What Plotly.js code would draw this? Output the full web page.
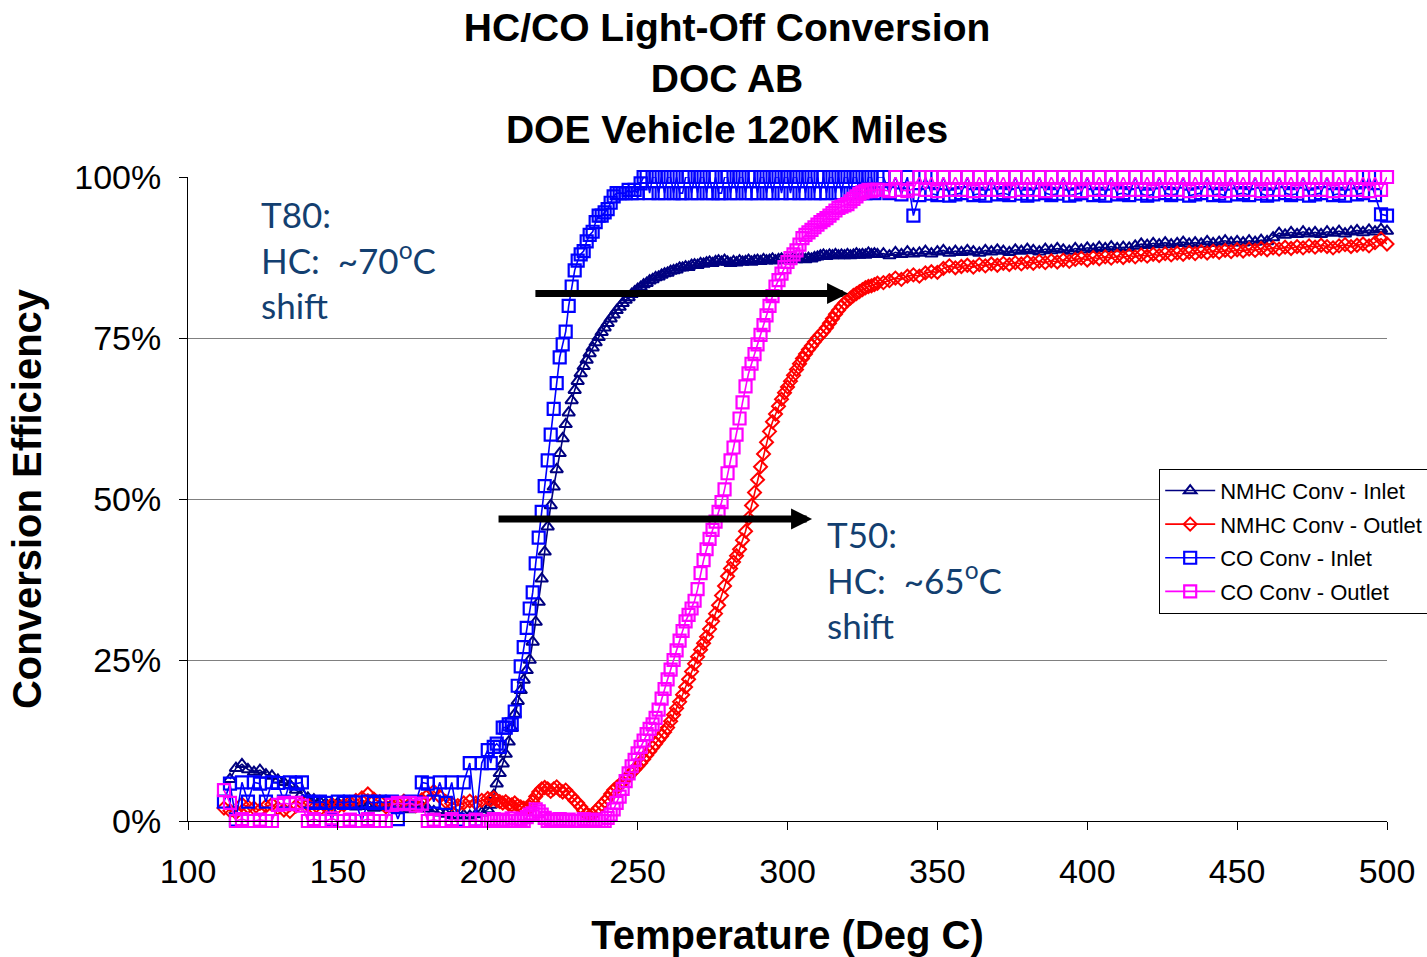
<!DOCTYPE html>
<html>
<head>
<meta charset="utf-8">
<script src="https://cdn.plot.ly/plotly-3.0.1.min.js"></script>
<style>html,body{margin:0;padding:0;background:#fff;}#chart{width:1427px;height:957px;}</style>
</head>
<body>
<div id="chart"></div>
<script>
// Temperatures (Deg C) at which the four series were read
const temps = [
  112,114,116,118,120,122,124,126,128,130,132,134,136,138,140,142,144,146,148,150,
  152,154,156,158,160,162,164,166,168,170,172,174,176,178,180,182,184,186,188,190,
  192,194,196,198,
  200,201,202,203,204,205,206,207,208,209,
  210,211,212,213,214,215,216,217,218,219,
  220,221,222,223,224,225,226,227,228,229,
  230,231,232,233,234,235,236,237,238,239,
  240,241,242,243,244,245,246,247,248,249,
  250,251,252,253,254,255,256,257,258,259,
  260,261,262,263,264,265,266,267,268,269,
  270,271,272,273,274,275,276,277,278,279,
  280,281,282,283,284,285,286,287,288,289,
  290,291,292,293,294,295,296,297,298,299,
  300,301,302,303,304,305,306,307,308,309,
  310,311,312,313,314,315,316,317,318,319,
  320,321,322,323,324,325,326,327,328,329,
  330,
  332,334,336,338,340,342,344,346,348,350,
  352,354,356,358,360,362,364,366,368,370,
  372,374,376,378,380,382,384,386,388,390,
  392,394,396,398,400,402,404,406,408,410,
  412,414,416,418,420,422,424,426,428,430,
  432,434,436,438,440,442,444,446,448,450,
  452,454,456,458,460,462,464,466,468,470,
  472,474,476,478,480,482,484,486,488,490,
  492,494,496,498,500
];

// NMHC Conv - Inlet (%)
const nmhcInlet = [
  null,6.5,8.2,8.8,8.0,7.6,7.9,7.2,7.0,6.4,6.0,5.6,4.8,4.2,3.6,3.3,3.0,2.7,2.5,2.8,
  2.4,2.6,2.2,2.5,2.3,2.0,2.4,2.1,1.9,2.2,2.0,1.8,2.1,2.3,1.9,1.5,1.3,1.1,0.9,0.8,
  0.9,0.8,1.0,1.3,
  1.8,2.5,4.0,5.8,7.4,8.9,10.4,12.3,14.4,16.6,
  18.6,20.3,21.9,23.4,25.0,27.8,30.9,34.0,37.6,41.8,
  45.7,49.0,51.9,54.6,57.1,59.4,61.6,63.4,65.3,66.9,
  68.3,69.5,70.6,71.6,72.6,73.5,74.3,75.1,75.9,76.6,
  77.3,78.0,78.6,79.3,79.8,80.4,80.9,81.3,81.8,82.2,
  82.6,82.9,83.3,83.5,83.9,84.1,84.4,84.5,84.8,85.0,
  85.1,85.4,85.5,85.6,85.9,85.9,86.1,86.0,86.3,86.4,
  86.3,86.6,86.5,86.7,86.8,86.6,86.9,87.0,86.8,87.1,
  86.8,86.6,86.9,86.7,87.0,86.8,86.9,87.1,86.8,87.0,
  87.1,86.9,87.2,87.0,87.1,87.3,87.0,87.2,87.3,87.1,
  87.2,87.1,87.4,87.2,87.3,87.4,87.2,87.4,87.3,87.5,
  87.6,87.8,87.9,87.7,87.9,87.8,88.0,87.8,87.9,87.8,
  88.0,87.8,87.9,88.1,87.9,88.0,87.9,88.2,88.0,88.1,
  88.0,
  88.1,87.8,88.3,88.0,88.4,88.1,88.2,88.5,88.1,88.4,
  88.6,88.2,88.5,88.3,88.6,88.4,88.2,88.6,88.4,88.7,
  88.5,88.3,88.7,88.5,88.8,88.6,88.4,88.8,88.6,88.9,
  88.7,88.5,88.9,88.7,89.0,88.8,89.1,88.9,89.2,88.9,
  89.1,89.0,89.3,89.6,89.4,89.7,89.5,89.8,89.5,89.7,
  89.9,89.6,89.8,89.6,90.0,89.7,89.9,90.1,89.8,90.0,
  89.8,90.1,89.9,90.2,90.0,90.6,91.3,91.0,91.4,91.1,
  91.5,91.2,91.4,91.1,91.5,91.3,91.6,91.2,91.5,91.7,
  91.4,91.8,91.5,91.9,91.6
];

// NMHC Conv - Outlet (%)
const nmhcOutlet = [
  2.0,1.6,1.3,2.6,2.2,2.0,1.7,2.3,2.6,2.0,1.7,1.5,2.3,2.8,2.5,2.0,1.8,2.2,2.6,2.2,
  2.5,2.9,3.2,3.6,4.2,3.4,3.0,2.2,2.4,2.7,3.1,2.6,2.4,3.3,4.0,4.6,3.8,3.0,2.7,2.4,
  2.8,3.1,2.8,3.2,
  3.5,3.3,3.6,3.2,3.0,2.8,3.0,2.6,2.5,2.8,
  2.4,2.2,2.0,1.8,2.2,3.0,3.8,4.5,5.0,5.2,
  5.0,4.6,5.0,5.3,4.8,4.5,4.8,4.2,3.8,3.2,
  2.8,2.2,1.6,1.0,0.8,1.0,1.5,2.0,2.5,3.0,
  3.5,4.2,4.8,5.2,5.6,6.0,6.5,7.0,7.5,8.0,
  8.5,9.0,9.6,10.2,10.8,11.4,12.0,12.6,13.2,13.8,
  14.5,15.5,16.5,17.5,18.5,19.6,20.8,22.0,23.2,24.4,
  25.5,26.6,27.6,28.6,29.8,31.0,32.2,33.5,35.0,36.5,
  38.0,39.2,40.2,41.2,42.2,43.6,45.0,47.0,49.0,51.0,
  53.0,55.0,57.0,58.8,60.5,62.0,63.2,64.4,65.5,66.5,
  67.4,68.3,69.2,70.1,71.0,71.8,72.5,73.2,73.8,74.4,
  75.0,75.5,76.0,76.6,77.3,78.0,78.7,79.3,79.9,80.4,
  80.8,81.2,81.6,81.9,82.2,82.5,82.8,83.0,83.1,83.3,
  83.5,
  83.6,83.9,84.3,84.1,84.6,84.8,84.6,85.1,85.3,85.2,
  85.8,86.2,85.9,86.1,86.3,86.0,86.4,86.2,86.5,86.3,
  86.6,86.4,86.7,86.5,86.8,86.6,86.9,86.7,87.0,86.8,
  87.1,86.9,87.2,87.4,87.1,87.5,87.3,87.6,87.4,87.7,
  87.5,87.8,87.6,87.9,87.7,88.0,87.8,88.1,87.9,88.2,
  88.0,88.3,88.1,88.4,88.2,88.5,88.3,88.6,88.4,88.7,
  88.5,88.8,88.6,88.9,88.7,89.0,88.8,89.1,88.9,89.2,
  89.0,89.3,89.1,89.4,89.2,89.0,89.3,89.5,89.2,89.4,
  89.6,89.3,89.8,90.4,89.6
];

// CO Conv - Inlet (%)
const coInlet = [
  3.0,5.8,0.2,6.0,3.0,6.0,5.8,3.0,6.0,5.9,3.0,6.0,5.8,6.0,3.0,2.8,3.0,2.8,0.2,3.0,
  2.8,3.0,2.9,0.0,3.0,2.8,3.0,2.8,3.0,0.3,2.8,3.0,2.9,6.0,5.8,3.0,6.0,2.8,6.0,0.2,
  6.0,9.0,0.2,9.0,
  11.0,9.0,11.5,12.0,11.5,14.5,14.5,15.0,15.0,17.0,
  21.0,24.0,27.0,30.0,33.0,35.5,40.0,44.0,48.0,52.0,
  56.0,60.0,64.0,68.0,72.0,74.0,76.0,80.0,83.0,85.5,
  87.0,88.0,88.5,90.0,91.0,91.5,93.0,94.0,94.0,94.5,
  95.0,96.0,97.0,97.5,97.5,97.5,97.5,98.0,97.5,98.0,
  97.5,99.0,100,100,97.5,100,100,97.5,100,97.5,
  100,100,97.5,100,97.5,97.5,100,100,97.5,100,
  97.5,100,100,97.5,100,97.5,100,97.5,97.5,100,
  100,97.5,100,97.5,100,100,97.5,100,97.5,100,
  97.5,100,100,97.5,100,97.5,100,100,97.5,100,
  100,97.5,100,100,97.5,100,97.5,100,100,97.5,
  100,97.5,100,97.5,100,100,97.5,100,97.5,100,
  100,97.5,100,100,97.5,100,97.5,100,100,97.5,
  100,
  100,97.5,100,97.3,100,94.0,97.2,100,97.4,97.2,
  100,97.1,97.3,97.5,100,97.2,97.4,97.1,100,97.3,
  97.5,97.2,100,97.4,97.1,97.3,100,97.5,97.2,97.4,
  100,97.1,97.3,97.5,100,97.2,97.4,97.1,100,97.3,
  97.5,97.2,100,97.4,97.1,97.3,100,97.5,97.2,97.4,
  100,97.1,97.3,97.5,100,97.2,97.4,97.1,100,97.3,
  97.5,97.2,100,97.4,97.1,97.3,100,97.5,97.2,97.4,
  100,97.1,97.3,97.5,100,97.2,97.4,97.1,100,97.3,
  97.5,100,97.2,94.2,94.0
];

// CO Conv - Outlet (%)
const coOutlet = [
  4.8,2.8,0.0,0.3,0.0,0.0,0.2,0.0,0.0,2.5,2.8,2.6,2.8,2.4,0.0,0.3,0.0,0.0,0.4,0.0,
  0.0,0.2,0.0,0.0,0.3,0.0,0.0,0.0,2.5,2.8,2.6,2.8,2.4,2.7,0.0,0.2,0.0,0.0,0.3,0.0,
  0.0,0.0,0.2,0.0,
  0.0,0.0,0.3,0.0,0.0,0.2,0.0,0.0,0.4,0.0,
  0.0,0.3,0.0,0.6,1.0,1.2,1.8,1.5,1.0,0.5,
  0.0,0.2,0.0,0.0,0.3,0.0,0.0,0.2,0.0,0.0,
  0.0,0.0,0.3,0.0,0.0,0.0,0.2,0.0,0.0,0.0,
  0.5,1.0,1.8,2.8,3.8,5.0,6.2,7.4,8.5,9.5,
  10.5,11.5,12.5,13.5,14.3,15.0,16.0,17.3,19.0,20.5,
  22.0,23.5,25.0,26.5,28.0,29.5,31.0,32.0,33.0,34.2,
  36.0,38.5,40.5,42.2,43.8,45.2,46.5,48.0,49.5,51.5,
  54.0,56.0,58.0,60.0,62.5,65.0,67.5,69.5,71.0,72.5,
  74.0,75.5,77.0,78.5,80.0,81.5,83.0,84.0,85.0,86.0,
  86.8,87.4,88.0,88.6,89.5,90.5,91.0,91.4,91.8,92.2,
  92.6,93.0,93.3,93.6,94.0,94.4,94.8,95.2,95.4,95.6,
  95.8,96.2,96.6,97.0,97.4,97.6,97.8,98.0,97.8,98.0,
  98.0,
  98.0,97.8,100,98.0,97.8,98.2,100,98.0,100,97.8,
  100,98.0,100,98.0,100,97.8,100,98.0,100,98.0,
  100,97.8,100,98.0,100,98.0,100,97.8,100,98.0,
  100,98.0,100,97.8,100,98.0,100,98.0,100,97.8,
  100,98.0,100,98.0,100,97.8,100,98.0,100,98.0,
  100,97.8,100,98.0,100,98.0,100,97.8,100,98.0,
  100,98.0,100,97.8,100,98.0,100,98.0,100,97.8,
  100,98.0,100,98.0,100,97.8,100,98.0,100,98.0,
  100,97.8,100,98.0,100
];

const seriesNames = ['NMHC Conv - Inlet', 'NMHC Conv - Outlet', 'CO Conv - Inlet', 'CO Conv - Outlet'];
const xTickVals = [100,150,200,250,300,350,400,450,500];
const yTickVals = [0,25,50,75,100];
const yTickLabels = ['0%','25%','50%','75%','100%'];

// Callout arrows: [tail temp, head temp, level %]
const arrowT80 = [215.4, 320.2, 81.9];
const arrowT50 = [203.1, 308.2, 46.9];

const ARIAL = 'Arial, "Liberation Sans", sans-serif';

function trace(y, name, color, symbol, size, lw, grp) {
  return {
    x: temps, y: y, name: name, type: 'scatter', mode: 'lines+markers', legendgroup: grp,
    line: {color: color, width: 1.6},
    marker: {symbol: symbol, size: size, color: color, line: {color: color, width: lw}},
    cliponaxis: false, connectgaps: false
  };
}

const data = [
  trace(nmhcInlet, seriesNames[0], '#000080', 'triangle-up-open', 11, 2, 'g1'),
  trace(nmhcOutlet, seriesNames[1], '#FF0000', 'diamond-open', 10, 2, 'g2'),
  trace(coInlet, seriesNames[2], '#0000FF', 'square-open', 12, 2.2, 'g3'),
  trace(coOutlet, seriesNames[3], '#FF00FF', 'square-open', 12, 2.2, 'g4')
];

const calloutFont = {family: 'Lato, "Noto Sans", sans-serif', size: 35, color: '#133F70'};

function arrowAnn(a) {
  return {x: a[1], y: a[2], ax: a[0], ay: a[2], xref: 'x', yref: 'y', axref: 'x', ayref: 'y',
    text: '', showarrow: true, arrowhead: 2, arrowsize: 0.6, arrowwidth: 7, arrowcolor: '#000000'};
}

const layout = {
  width: 1427, height: 957,
  margin: {l: 188, r: 40, t: 177, b: 136, autoexpand: false},
  paper_bgcolor: '#ffffff', plot_bgcolor: '#ffffff',
  font: {family: ARIAL, color: '#000000'},
  title: {
    text: '<b>HC/CO Light-Off Conversion<br>DOC AB<br>DOE Vehicle 120K Miles</b>',
    font: {family: ARIAL, size: 39, color: '#000000'},
    x: 0.5095, xref: 'container', xanchor: 'center',
    y: 0.957, yref: 'container', yanchor: 'top'
  },
  xaxis: {
    range: [100, 500], tickvals: xTickVals, ticks: 'outside', ticklen: 8, tickwidth: 1, tickcolor: '#000',
    showline: true, linecolor: '#000', linewidth: 1, showgrid: false, zeroline: false,
    tickfont: {family: ARIAL, size: 34}, ticklabelstandoff: 12,
    title: {text: '<b>Temperature (Deg C)</b>', font: {family: ARIAL, size: 40}, standoff: 36}
  },
  yaxis: {
    range: [0, 100], tickvals: yTickVals, ticktext: yTickLabels, ticks: 'outside', ticklen: 8, tickwidth: 1, tickcolor: '#000',
    showline: true, linecolor: '#000', linewidth: 1, showgrid: true, gridcolor: '#808080', gridwidth: 1, zeroline: false,
    tickfont: {family: ARIAL, size: 34}, ticklabelstandoff: 11,
    title: {text: '<b>Conversion Efficiency</b>', font: {family: ARIAL, size: 40}, standoff: 20}
  },
  showlegend: true,
  legend: {
    x: 0.81, xanchor: 'left', y: 0.547, yanchor: 'top',
    bgcolor: '#ffffff', bordercolor: '#000000', borderwidth: 1,
    font: {family: ARIAL, size: 22, color: '#000'}, itemwidth: 50,
    traceorder: 'grouped', tracegroupgap: 2
  },
  annotations: [
    arrowAnn(arrowT80), arrowAnn(arrowT50),
    {x: 123.7, y: 97.8, xref: 'x', yref: 'y', xanchor: 'left', yanchor: 'top', align: 'left', showarrow: false,
      text: 'T80:<br>HC:  ~70<sup>o</sup>C<br>shift', font: calloutFont},
    {x: 312.5, y: 48.1, xref: 'x', yref: 'y', xanchor: 'left', yanchor: 'top', align: 'left', showarrow: false,
      text: 'T50:<br>HC:  ~65<sup>o</sup>C<br>shift', font: calloutFont}
  ]
};

Plotly.newPlot('chart', data, layout, {displayModeBar: false, responsive: false});
</script>
</body>
</html>
